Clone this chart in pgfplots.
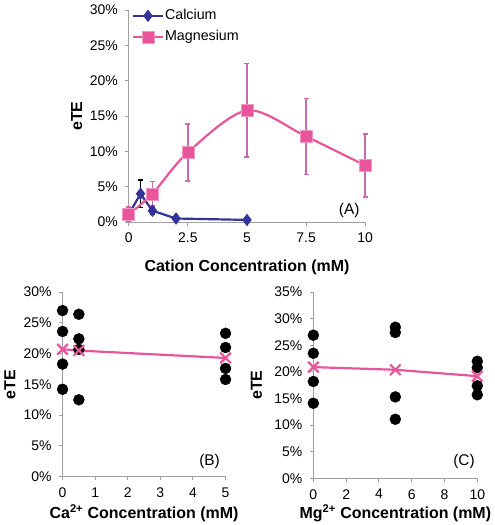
\documentclass[border=0pt]{standalone}
\usepackage{pgfplots}
\pgfplotsset{compat=1.18}
\usepackage{fontspec}
\setmainfont{Liberation Sans}
\definecolor{navy}{HTML}{333399}
\definecolor{mgpink}{HTML}{E8559B}
\definecolor{errpink}{HTML}{C86AAE}
\definecolor{axgray}{HTML}{A0A0A0}
\pgfplotsset{
 excel/.style={scale only axis, axis lines=left,
  axis line style={-,axgray,line width=0.9pt},
  tick align=outside, major tick length=3.5pt,
  tick style={axgray,line width=0.9pt},
  /pgf/number format/assume math mode=true,
  tick label style={font=\fontsize{14}{16}\selectfont},
  xticklabel style={yshift=-4pt},
  yticklabel style={xshift=-4pt},
  label style={font=\fontsize{16}{18}\selectfont\bfseries},
  yticklabel={\pgfmathprintnumber{\tick}\%},
  clip=false},
}
\begin{document}
\begin{tikzpicture}
\path (0,0) rectangle (493pt,525pt);
% Panel A
\begin{axis}[excel, at={(129pt,302.5pt)}, anchor=south west,
  width=237pt, height=212.5pt,
  xmin=0, xmax=10, ymin=0, ymax=30,
  xtick={0,2.5,5,7.5,10}, ytick={0,5,...,30},
  xticklabels={0,2.5,5,7.5,10},
  xlabel={Cation Concentration (mM)},
  ylabel={eTE},
  ylabel style={at={(axis description cs:-0.22,0.5)}, anchor=center},
  xlabel style={at={(axis description cs:0.5,-0.214)}, anchor=center},
  legend image code/.code={\draw[mark repeat=2,mark phase=2] plot coordinates {(0pt,0pt) (15pt,0pt) (30pt,0pt)};},
  legend style={at={(0,1)}, anchor=north west, xshift=3pt, yshift=2pt,
    draw=none, fill=none, inner sep=0pt,
    font=\fontsize{14.3}{16}\selectfont, row sep=5.7pt,
    nodes={inner sep=1pt, text height=10.3pt, text depth=3pt}},
  legend cell align=left]
\addplot[navy, line width=2.2pt, mark=diamond*, mark size=4.5pt,
  error bars/.cd, y dir=both, y explicit,
  error bar style={black,line width=1.2pt},
  error mark options={black,rotate=90,mark size=2.5pt,line width=1.2pt}]
 coordinates {(0,1.1) +- (0,0.5) (0.5,4.0) +- (0,1.95) (1,1.6) +- (0,0.5) (2,0.5) +- (0,0) (5,0.3) +- (0,0)};
\addlegendentry{Calcium}
\addplot[mgpink, line width=2.2pt, smooth, tension=0.5, mark=square*, mark size=6pt,
  mark options={fill=mgpink, draw=mgpink!60!white, line width=0.5pt},
  error bars/.cd, y dir=both, y explicit,
  error bar style={errpink,line width=1.5pt},
  error mark options={errpink,rotate=90,mark size=2.5pt,line width=1.5pt}]
 coordinates {(0,1.1) +- (0,1.0) (1,4.0) +- (0,1.7) (2.5,9.85) +- (0,4.05) (5,15.8) +- (0,6.6) (7.5,12.1) +- (0,5.4) (10,8.0) +- (0,4.45)};
\addlegendentry{Magnesium}
\node[font=\fontsize{15.5}{17}\selectfont] at (axis cs:9.32,1.6) {(A)};
\end{axis}
% Panel B
\begin{axis}[excel, at={(62.7pt,47.3pt)}, anchor=south west,
  width=163.3pt, height=185pt,
  xmin=0, xmax=5, ymin=0, ymax=30,
  xtick={0,...,5}, ytick={0,5,...,30},
  xlabel={Ca\textsuperscript{2+} Concentration (mM)},
  ylabel={eTE},
  ylabel style={at={(axis description cs:-0.323,0.5)}, anchor=center},
  xlabel style={at={(axis description cs:0.5,-0.196)}, anchor=center}]
\addplot[only marks, mark=*, mark size=5.5pt, black]
 coordinates {(0,27.0) (0,23.6) (0,18.3) (0,14.2) (0.5,26.4) (0.5,22.4) (0.5,20.7) (0.5,12.5) (5,23.3) (5,21.0) (5,17.6) (5,15.8)};
\addplot[mgpink, line width=2.2pt, mark=x, mark size=7.5pt, mark options={line width=2.2pt}]
 coordinates {(0,20.7) (0.5,20.5) (5,19.3)};
\node[font=\fontsize{15.5}{17}\selectfont] at (axis cs:4.51,2.55) {(B)};
\end{axis}
% Panel C
\begin{axis}[excel, at={(314pt,45.7pt)}, anchor=south west,
  width=164.3pt, height=186.6pt,
  xmin=0, xmax=10, ymin=0, ymax=35,
  xtick={0,2,...,10}, ytick={0,5,...,35},
  xlabel={Mg\textsuperscript{2+} Concentration (mM)},
  ylabel={eTE},
  ylabel style={at={(axis description cs:-0.347,0.5)}, anchor=center},
  xlabel style={at={(axis description cs:0.5,-0.186)}, anchor=center}]
\addplot[only marks, mark=*, mark size=5.5pt, black]
 coordinates {(0,26.9) (0,23.5) (0,18.2) (0,14.1) (5,28.4) (5,27.4) (5,15.3) (5,11.1) (10,22.0) (10,20.8) (10,17.4) (10,15.7)};
\addplot[mgpink, line width=2.2pt, mark=x, mark size=7.5pt, mark options={line width=2.2pt}]
 coordinates {(0,20.9) (5,20.4) (10,19.2)};
\node[font=\fontsize{15.5}{17}\selectfont] at (axis cs:9.19,3.24) {(C)};
\end{axis}
\end{tikzpicture}
\end{document}
